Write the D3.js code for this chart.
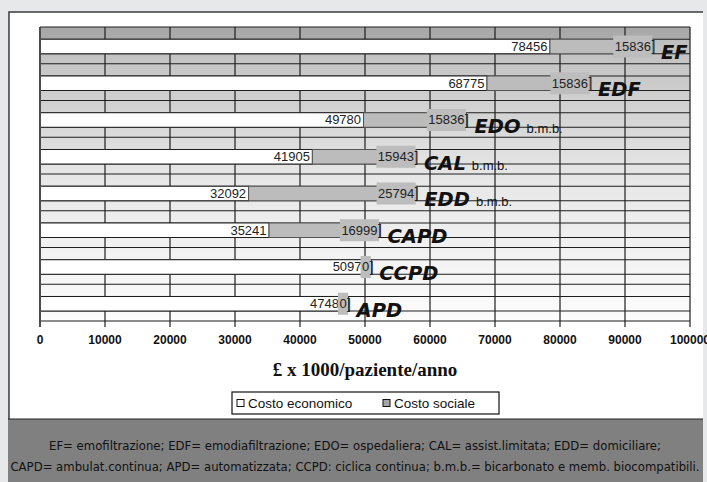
<!DOCTYPE html>
<html>
<head>
<meta charset="utf-8">
<script src="https://cdn.jsdelivr.net/npm/d3@7"></script>
<style>
  html, body { margin: 0; padding: 0; background: #e7e8ea; }
  svg { display: block; }
</style>
</head>
<body>
<svg id="chart" width="707" height="482"></svg>
<script>
// Dialysis modalities and yearly cost per patient (£ x 1000)
const categories = ["EF", "EDF", "EDO", "CAL", "EDD", "CAPD", "CCPD", "APD"];
const costoEconomico = [78456, 68775, 49780, 41905, 32092, 35241, 50970, 47480];
const costoSociale = [15836, 15836, 15836, 15943, 25794, 16999, 0, 0];
const categoryNotes = ["", "", "b.m.b.", "b.m.b.", "b.m.b.", "", "", ""];
const xTicks = [0, 10000, 20000, 30000, 40000, 50000, 60000, 70000, 80000, 90000, 100000];
const seriesNames = ["Costo economico", "Costo sociale"];
const axisTitle = "£ x 1000/paziente/anno";
const footerLines = [
  "EF= emofiltrazione; EDF= emodiafiltrazione; EDO= ospedaliera; CAL= assist.limitata; EDD= domiciliare;",
  "CAPD= ambulat.continua; APD= automatizzata; CCPD: ciclica continua; b.m.b.= bicarbonato e memb. biocompatibili."
];

const svg = d3.select("#chart");
const W = 707, H = 482;
const plot = { left: 40, right: 690, top: 27, bottom: 321 };

const x = d3.scaleLinear().domain([0, 100000]).range([plot.left, plot.right]);
const y = d3.scaleBand().domain(categories).range([plot.top, plot.bottom]).padding(0);
const step = y.step();
const barOff = step * 0.333, barH = step * 0.395;
const barTop = c => y(c) + barOff;

const rows = categories.map((c, i) => ({
  c, eco: costoEconomico[i], soc: costoSociale[i], note: categoryNotes[i]
}));

// white chart panel
svg.append("rect").attr("x", 9).attr("y", 12).attr("width", 694).attr("height", 407)
  .attr("fill", "#ffffff");
svg.append("path").attr("d", "M9,419V12H703").attr("fill", "none")
  .attr("stroke", "#3a3a3a").attr("stroke-width", 1.5);

// plot background: vertical grey-to-white gradient
const defs = svg.append("defs");
const grad = defs.append("linearGradient").attr("id", "plotBg")
  .attr("x1", 0).attr("y1", 0).attr("x2", 0).attr("y2", 1);
[[0, "#a7a7a7"], [0.041, "#ababab"], [0.042, "#bdbdbd"], [0.1, "#c3c3c3"],
 [0.5, "#e6e6e6"], [1, "#fcfcfc"]].forEach(([o, col]) =>
  grad.append("stop").attr("offset", o).attr("stop-color", col));

svg.append("rect").attr("x", plot.left).attr("y", plot.top)
  .attr("width", plot.right - plot.left).attr("height", plot.bottom - plot.top)
  .attr("fill", "url(#plotBg)");

const lineCol = "#1e1e1e";

// vertical gridlines, extended below the axis as tick marks
svg.append("g").selectAll("line").data(xTicks).join("line")
  .attr("x1", d => x(d)).attr("x2", d => x(d))
  .attr("y1", plot.top).attr("y2", plot.bottom + 6)
  .attr("stroke", lineCol).attr("stroke-width", 1.2);

// horizontal lines: band boundaries and bar edges across the plot
const hLines = [];
categories.forEach(c => { hLines.push(y(c)); hLines.push(barTop(c)); hLines.push(barTop(c) + barH); });
hLines.push(plot.bottom);
svg.append("g").selectAll("line").data(hLines).join("line")
  .attr("x1", plot.left).attr("x2", plot.right)
  .attr("y1", d => d).attr("y2", d => d)
  .attr("stroke", lineCol).attr("stroke-width", 1.2);

// bars
const bars = svg.append("g");
bars.selectAll("rect.eco").data(rows).join("rect").attr("class", "eco")
  .attr("x", x(0)).attr("y", d => barTop(d.c))
  .attr("width", d => x(d.eco) - x(0)).attr("height", barH)
  .attr("fill", "#ffffff").attr("stroke", lineCol).attr("stroke-width", 1);
bars.selectAll("rect.soc").data(rows.filter(d => d.soc > 0)).join("rect").attr("class", "soc")
  .attr("x", d => x(d.eco)).attr("y", d => barTop(d.c))
  .attr("width", d => x(d.eco + d.soc) - x(d.eco)).attr("height", barH)
  .attr("fill", "#bcbcbc").attr("stroke", "#555").attr("stroke-width", 1);

// left axis line
svg.append("line").attr("x1", plot.left).attr("x2", plot.left)
  .attr("y1", plot.top).attr("y2", plot.bottom + 6)
  .attr("stroke", "#4d4d4d").attr("stroke-width", 2);

// economic cost labels, right-aligned at the end of the white bar
svg.append("g").selectAll("text").data(rows).join("text")
  .attr("x", d => x(d.eco) - 2.5).attr("y", d => barTop(d.c) + barH / 2 + 4.5)
  .attr("text-anchor", "end").attr("font-family", "Liberation Sans, Arial, sans-serif")
  .attr("font-size", 13).attr("fill", "#222").text(d => d.eco);

// social cost labels with grey box and closing bracket
const socG = svg.append("g");
rows.forEach(d => {
  const end = x(d.eco + d.soc);
  const cy = barTop(d.c) + barH / 2;
  const g = socG.append("g");
  const box = g.append("rect");
  const t = g.append("text").attr("x", end - 2).attr("y", cy + 4.5)
    .attr("text-anchor", "end").attr("font-family", "Liberation Sans, Arial, sans-serif")
    .attr("font-size", 13).attr("fill", "#222").text(d.soc);
  const bb = t.node().getBBox();
  box.attr("x", bb.x - 1.5).attr("y", cy - 11).attr("width", bb.width + 3).attr("height", 22)
    .attr("fill", "#bdbdbd");
  g.append("text").attr("x", end - 1.5).attr("y", cy + 5)
    .attr("font-family", "Liberation Sans, Arial, sans-serif")
    .attr("font-size", 14).attr("fill", "#222").text("]");

  // modality name after the bar
  const lab = g.append("text").attr("x", end + 8).attr("y", cy + 13)
    .attr("font-family", "'Comic Sans MS', 'DejaVu Sans', sans-serif")
    .attr("font-weight", "bold").attr("font-style", "italic")
    .attr("font-size", 19.5).attr("fill", "#111").text(d.c);
  if (d.note) {
    const lb = lab.node().getBBox();
    g.append("text").attr("x", lb.x + lb.width + 6).attr("y", cy + 13)
      .attr("font-family", "Liberation Sans, Arial, sans-serif")
      .attr("font-size", 13).attr("fill", "#111").text(d.note);
  }
});

// x tick labels
svg.append("g").selectAll("text").data(xTicks).join("text")
  .attr("x", d => x(d)).attr("y", 344).attr("text-anchor", "middle")
  .attr("font-family", "Liberation Sans, Arial, sans-serif").attr("font-weight", "bold")
  .attr("font-size", 12).attr("fill", "#111").text(d => d);

// axis title
svg.append("text").attr("x", (plot.left + plot.right) / 2).attr("y", 376)
  .attr("text-anchor", "middle").attr("font-family", "Liberation Serif, 'Times New Roman', serif")
  .attr("font-weight", "bold").attr("font-size", 19).attr("fill", "#111").text(axisTitle);

// legend
const lg = svg.append("g");
lg.append("rect").attr("x", 232).attr("y", 392).attr("width", 267).attr("height", 22)
  .attr("fill", "#fff").attr("stroke", "#111").attr("stroke-width", 1.2);
const legendFills = ["#ffffff", "#a6a6a6"];
const legendX = [237, 383];
seriesNames.forEach((s, i) => {
  lg.append("rect").attr("x", legendX[i]).attr("y", 399.5).attr("width", 7).attr("height", 7)
    .attr("fill", legendFills[i]).attr("stroke", "#111").attr("stroke-width", 1);
  lg.append("text").attr("x", legendX[i] + 11).attr("y", 408)
    .attr("font-family", "Liberation Sans, Arial, sans-serif").attr("font-size", 13.5)
    .attr("fill", "#111").text(s);
});

// footer band with abbreviations
svg.append("rect").attr("x", 8).attr("y", 419).attr("width", 695).attr("height", H - 419)
  .attr("fill", "#808080");
svg.append("line").attr("x1", 8).attr("x2", 703).attr("y1", 419).attr("y2", 419)
  .attr("stroke", "#222").attr("stroke-width", 1.2);
const ft = svg.append("g").selectAll("text").data(footerLines).join("text")
  .attr("x", 355).attr("y", (d, i) => 450 + i * 21).attr("text-anchor", "middle")
  .attr("font-family", "'Comic Sans MS', 'DejaVu Sans', sans-serif")
  .attr("font-size", 11).attr("fill", "#111").text(d => d);
// size the footer font so the longest line fills the band width
const longest = d3.max(ft.nodes(), n => n.getComputedTextLength());
ft.attr("font-size", 11 * 690 / longest);
</script>
</body>
</html>
